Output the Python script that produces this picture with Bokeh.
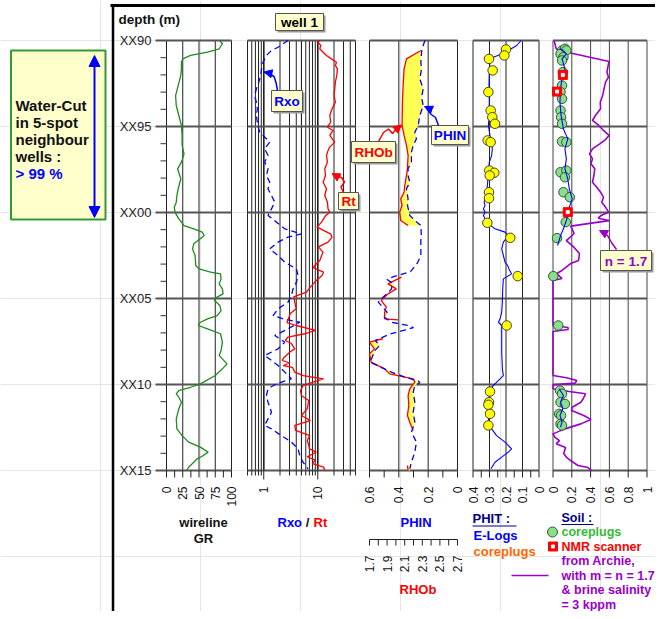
import numpy as np
from bokeh.plotting import figure
from bokeh.models import Range1d, LogScale, Arrow, NormalHead
from bokeh.core.properties import value
from bokeh.embed import file_html
from bokeh.resources import INLINE

# ---------------- data (depth in m: 90 = XX90 ... 115 = XX15) ----------------
DEPTH_MAJOR = [90, 95, 100, 105, 110, 115]
DEPTH_LABELS = ["XX90", "XX95", "XX00", "XX05", "XX10", "XX15"]
DEPTH_MINOR = [d for d in range(90, 116) if d % 5 != 0]

GR_LOG = [(90.00, 82), (90.19, 86), (90.48, 81), (90.68, 63), (90.87, 37), (91.07, 25), (91.26, 23),
          (91.65, 23), (92.03, 22), (92.62, 18), (93.20, 14), (93.78, 15), (94.36, 19), (94.94, 23),
          (95.52, 24), (96.10, 24), (96.59, 27), (97.07, 23), (97.46, 17), (98.04, 22), (98.62, 18),
          (99.01, 16), (99.40, 15), (99.69, 12), (99.98, 13), (100.37, 19), (100.76, 27), (100.95, 42),
          (101.14, 55), (101.34, 58), (101.53, 52), (101.82, 42), (102.11, 40), (102.50, 44), (103.08, 45),
          (103.28, 50), (103.47, 68), (103.57, 83), (103.86, 84), (104.15, 81), (104.44, 86), (104.73, 87),
          (104.98, 75), (105.12, 74), (105.41, 82), (105.70, 84), (105.99, 78), (106.18, 63), (106.41, 51),
          (106.57, 49), (106.76, 63), (107.05, 83), (107.54, 86), (108.02, 84), (108.31, 81), (108.80, 93),
          (109.09, 86), (109.48, 75), (109.86, 57), (110.00, 50), (110.16, 37), (110.35, 19), (110.54, 15),
          (110.74, 19), (111.03, 23), (111.41, 19), (112.00, 15), (112.58, 16), (112.97, 24), (113.35, 34),
          (113.64, 52), (113.93, 64), (114.17, 55), (114.32, 47), (114.52, 42), (114.81, 34), (115.00, 31)]

RT_LOG = [(90.00, 10.9), (90.10, 10.1), (90.29, 11.4), (90.48, 10.9), (90.68, 12.6), (90.87, 14.5),
          (91.07, 17.9), (91.26, 22.2), (91.45, 21.2), (91.65, 23.1), (92.03, 22.5), (92.42, 21.2),
          (92.81, 20.6), (93.20, 20.1), (93.59, 21.2), (93.97, 18.4), (94.36, 16.7), (94.75, 17.4),
          (95.04, 15.1), (95.23, 19.2), (95.52, 16.7), (95.91, 20.6), (96.20, 16.7), (96.40, 15.5),
          (96.69, 14.5), (97.07, 15.1), (97.46, 13.5), (97.85, 13.9), (98.24, 12.6), (98.62, 14.5),
          (99.01, 13.5), (99.40, 15.1), (99.79, 15.5), (99.98, 16.7), (100.17, 14.1), (100.56, 11.7),
          (100.85, 9.7), (101.24, 17.2), (101.43, 18.4), (101.72, 15.5), (102.00, 10.3), (102.30, 12.5),
          (102.79, 10.9), (103.08, 8.8), (103.20, 8.2), (103.47, 12.8), (103.66, 12.0), (103.95, 9.4),
          (104.34, 7.3), (104.63, 6.2), (104.90, 3.6), (105.21, 3.75), (105.60, 4.0), (105.87, 3.1),
          (106.40, 2.7), (106.57, 4.0), (106.86, 9.1), (107.05, 5.7), (107.25, 2.8), (107.44, 2.5),
          (107.60, 3.2), (107.93, 3.75), (108.10, 3.1), (108.41, 2.4), (108.60, 2.2), (108.75, 3.0),
          (108.90, 2.3), (109.00, 3.4), (109.28, 3.75), (109.48, 5.35), (109.67, 12.8), (109.86, 8.2),
          (110.06, 5.35), (110.35, 4.8), (110.64, 5.0), (110.93, 6.8), (111.40, 6.4), (111.80, 5.0),
          (112.10, 7.3), (112.38, 3.75), (112.67, 3.9), (112.97, 7.1), (113.26, 6.4), (113.74, 7.1),
          (113.93, 9.4), (114.20, 6.4), (114.40, 9.0), (114.60, 8.0), (114.80, 12.8), (115.00, 13.5)]

RXO_LOG = [(90.00, 2.82), (90.19, 2.28), (90.39, 1.84), (90.58, 1.39), (90.87, 1.12), (91.26, 0.97),
           (91.65, 0.91), (92.03, 0.88), (92.42, 0.81), (92.81, 0.73), (93.20, 0.68), (93.59, 0.73),
           (93.97, 0.76), (94.36, 0.73), (94.75, 0.76), (95.14, 0.81), (95.33, 0.84), (95.52, 0.97),
           (95.91, 1.29), (96.30, 1.04), (96.69, 1.20), (97.07, 1.04), (97.46, 1.20), (97.85, 1.12),
           (98.24, 1.29), (98.62, 1.20), (99.01, 1.39), (99.40, 1.60), (99.79, 1.39), (100.17, 1.20),
           (100.56, 1.72), (100.95, 2.45), (101.24, 4.98), (101.43, 2.82), (101.72, 1.84), (102.11, 1.29),
           (102.50, 1.84), (102.89, 2.45), (103.28, 4.03), (103.66, 4.32), (104.05, 4.03), (104.44, 3.49),
           (104.83, 3.25), (105.21, 2.82), (105.60, 1.84), (105.99, 1.49), (106.18, 2.28), (106.38, 4.64),
           (106.76, 2.82), (107.15, 1.60), (107.54, 2.45), (107.93, 1.84), (108.31, 1.04), (108.60, 1.39),
           (108.90, 1.84), (109.28, 2.45), (109.67, 3.25), (109.96, 1.72), (110.25, 1.20), (110.64, 1.12),
           (111.03, 1.20), (111.61, 1.39), (112.00, 1.20), (112.38, 1.04), (112.58, 1.39), (112.97, 2.12),
           (113.35, 3.25), (113.74, 4.32), (114.13, 4.64), (114.52, 5.35), (114.90, 6.62)]

PHIN_LOG = [(90.00, 0.222), (90.29, 0.234), (90.68, 0.245), (91.26, 0.250), (91.65, 0.245), (92.23, 0.257),
            (92.81, 0.234), (93.29, 0.245), (93.78, 0.234), (94.36, 0.257), (94.94, 0.268), (95.33, 0.291),
            (95.72, 0.280), (96.10, 0.302), (96.49, 0.314), (97.07, 0.314), (97.46, 0.337), (97.85, 0.337),
            (98.24, 0.325), (98.62, 0.348), (99.21, 0.337), (99.59, 0.341), (100.17, 0.325), (100.47, 0.290),
            (100.75, 0.250), (101.24, 0.247), (101.72, 0.250), (102.11, 0.250), (102.50, 0.250), (102.96, 0.275),
            (103.44, 0.320), (103.73, 0.436), (103.90, 0.480), (104.10, 0.445), (104.44, 0.450), (104.63, 0.470),
            (105.02, 0.520), (105.21, 0.540), (105.60, 0.500), (105.79, 0.480), (106.09, 0.500), (106.38, 0.450),
            (106.57, 0.337), (106.70, 0.300), (106.86, 0.370), (107.05, 0.457), (107.44, 0.560), (107.73, 0.531),
            (108.00, 0.560), (108.31, 0.577), (108.70, 0.595), (109.00, 0.520), (109.28, 0.450), (109.57, 0.360),
            (109.80, 0.265), (109.90, 0.257), (110.06, 0.291), (110.45, 0.302), (111.03, 0.291), (111.61, 0.302),
            (112.19, 0.291), (112.77, 0.314), (113.35, 0.280), (113.93, 0.291), (114.52, 0.314), (114.90, 0.325)]

RHOB_RUNS = [
    [(90.58, 2.284), (91.07, 2.120), (91.65, 2.093), (92.62, 2.082), (93.59, 2.074), (94.94, 2.070),
     (95.52, 2.093), (96.10, 2.120), (96.69, 2.139), (97.46, 2.131), (97.85, 2.120), (98.43, 2.101),
     (98.82, 2.093), (99.21, 2.055), (99.59, 2.070), (99.98, 2.044), (100.47, 2.055), (100.76, 2.139)],
    [(103.76, 2.063), (104.15, 1.910), (104.44, 2.005), (104.73, 1.910), (105.12, 1.834), (105.50, 1.891),
     (105.79, 1.872), (106.18, 1.872), (106.24, 2.024)],
    [(107.34, 1.853), (107.54, 1.700), (107.93, 1.757), (108.22, 1.700), (108.70, 1.719), (109.09, 1.872),
     (109.38, 1.929), (109.67, 2.196), (109.86, 2.215), (110.25, 2.158), (110.64, 2.139), (111.22, 2.147),
     (111.80, 2.131), (112.19, 2.158), (112.67, 2.196)],
    [(114.71, 2.131), (115.00, 2.139)],
]

PHIT_LOG = [(90.00, 0.109), (90.29, 0.135), (90.58, 0.186), (90.78, 0.226), (90.97, 0.277), (91.16, 0.297),
            (91.65, 0.301), (92.62, 0.303), (93.59, 0.301), (94.55, 0.303), (94.94, 0.307), (95.52, 0.297),
            (95.91, 0.287), (96.30, 0.283), (96.69, 0.287), (97.07, 0.301), (97.66, 0.307), (98.24, 0.311),
            (98.82, 0.317), (99.21, 0.327), (99.40, 0.333), (99.59, 0.327), (99.79, 0.337), (99.98, 0.327),
            (100.17, 0.337), (100.56, 0.317), (100.95, 0.267), (101.14, 0.206), (101.34, 0.186), (101.72, 0.216),
            (102.11, 0.226), (102.50, 0.216), (102.89, 0.206), (103.08, 0.190), (103.28, 0.182), (103.57, 0.166),
            (103.86, 0.216), (104.44, 0.220), (105.21, 0.222), (105.79, 0.226), (106.18, 0.236), (106.38, 0.246),
            (106.57, 0.226), (107.15, 0.226), (108.12, 0.226), (109.09, 0.222), (109.48, 0.216), (109.67, 0.236),
            (109.96, 0.267), (110.16, 0.287), (110.45, 0.297), (111.03, 0.307), (111.61, 0.311), (112.19, 0.303),
            (112.58, 0.287), (112.97, 0.257), (113.35, 0.206), (113.74, 0.166), (113.93, 0.186), (114.22, 0.226),
            (114.52, 0.267), (114.90, 0.291)]

PHIT_CORE = [(90.52, 0.200), (90.87, 0.210), (91.07, 0.303), (91.74, 0.281), (93.00, 0.307), (94.07, 0.293),
             (94.46, 0.283), (94.84, 0.267), (95.81, 0.311), (95.91, 0.293), (97.56, 0.301), (97.69, 0.271),
             (97.85, 0.299), (98.82, 0.303), (99.17, 0.303), (100.60, 0.313), (101.47, 0.174), (103.70, 0.129),
             (106.57, 0.196), (110.41, 0.297), (111.03, 0.303), (111.18, 0.307), (111.71, 0.297), (112.38, 0.307)]

SW_ARCHIE = [(90.00, 0.012), (90.48, 0.034), (90.58, 0.068), (91.22, 0.596), (91.55, 0.583), (91.84, 0.574),
             (92.13, 0.590), (92.42, 0.559), (92.81, 0.543), (93.20, 0.528), (93.59, 0.503), (93.97, 0.506),
             (94.36, 0.451), (94.65, 0.420), (94.94, 0.488), (95.23, 0.537), (95.52, 0.596), (95.76, 0.559),
             (96.01, 0.497), (96.30, 0.420), (96.59, 0.389), (96.88, 0.420), (97.17, 0.404), (97.46, 0.444),
             (97.85, 0.435), (98.24, 0.420), (98.53, 0.466), (98.82, 0.506), (99.11, 0.537), (99.40, 0.519),
             (99.69, 0.559), (99.98, 0.590), (100.17, 0.512), (100.33, 0.481), (100.47, 0.596), (100.79, 0.188),
             (101.22, 0.225), (101.63, 0.142), (102.03, 0.225), (102.38, 0.281), (102.79, 0.272), (102.97, 0.188),
             (103.37, 0.096), (103.55, 0.040), (103.84, 0.096), (103.95, 0.0), (106.57, 0.0), (106.69, 0.160),
             (106.80, 0.160), (106.92, 0.0), (109.48, 0.0), (109.61, 0.142), (109.77, 0.253), (109.92, 0.235),
             (110.02, 0.0), (110.25, 0.0), (110.41, 0.173), (110.54, 0.346), (110.83, 0.321), (111.03, 0.296),
             (111.32, 0.204), (111.51, 0.198), (111.80, 0.327), (112.03, 0.404), (112.29, 0.296), (112.58, 0.127),
             (112.87, 0.0), (113.06, 0.019), (113.26, 0.068), (113.45, 0.034), (113.66, 0.133), (114.01, 0.114),
             (114.22, 0.142), (114.42, 0.188), (114.71, 0.265), (114.83, 0.373), (115.00, 0.410)]

SW_CORE = [(90.58, 0.096), (90.48, 0.127), (90.58, 0.142), (90.78, 0.080), (90.97, 0.111), (91.16, 0.096),
           (91.84, 0.105), (92.62, 0.096), (93.00, 0.080), (93.39, 0.096), (94.07, 0.080), (94.46, 0.086),
           (94.84, 0.096), (95.87, 0.096), (95.91, 0.142), (97.66, 0.080), (97.56, 0.142), (97.95, 0.127),
           (98.82, 0.111), (99.11, 0.179), (100.56, 0.136), (101.49, 0.043), (103.70, 0.003), (106.57, 0.056),
           (110.35, 0.074), (110.54, 0.096), (111.03, 0.080), (111.13, 0.127), (111.71, 0.065), (111.80, 0.086),
           (112.29, 0.080), (112.38, 0.096)]

SW_NMR = [(92.00, 0.105), (92.97, 0.043), (99.98, 0.157)]

SW_ELOG_RUNS = [
    [(90.48, 0.074), (90.78, 0.142), (91.07, 0.096), (91.65, 0.127), (92.23, 0.096), (92.81, 0.080),
     (93.59, 0.074), (94.36, 0.086), (95.14, 0.111), (95.72, 0.157), (96.30, 0.127), (96.88, 0.142),
     (97.46, 0.127), (98.04, 0.157), (98.62, 0.173), (99.21, 0.204), (99.79, 0.167), (100.37, 0.148),
     (100.95, 0.111), (101.34, 0.080), (101.92, 0.049)],
    [(110.25, 0.065), (110.64, 0.111), (111.03, 0.080), (111.41, 0.105), (111.80, 0.074), (112.19, 0.096),
     (112.48, 0.080)],
]

# axis ticks of each track
GR_TICKS = [0, 25, 50, 75, 100]
GR_MINOR = [12.5, 37.5, 62.5, 87.5]
RES_LABELS = [1, 10]
RES_GRID = [0.5, 0.6, 0.7, 0.8, 0.9, 1, 2, 3, 4, 5, 6, 7, 8, 9, 10, 20, 30, 40, 50]
PHIN_TICKS = [0.6, 0.4, 0.2, 0.0]
PHIN_MINOR = [0.5, 0.3, 0.1]
RHOB_TICKS = [1.7, 1.9, 2.1, 2.3, 2.5, 2.7]
RHOB_MINOR = [1.8, 2.0, 2.2, 2.4, 2.6]
PHIT_TICKS = [0.4, 0.3, 0.2, 0.1, 0.0]
PHIT_MINOR = [0.35, 0.25, 0.15, 0.05]
SOIL_TICKS = [0, 0.2, 0.4, 0.6, 0.8, 1.0]


def unzip(pairs):
    a = np.array(pairs, dtype=float)
    return a[:, 0], a[:, 1]


def lab(v):
    return "0" if v == 0 else ("1" if v == 1 else ("%g" % v))


# ---------------- layout (canvas pixel = picture pixel) ----------------
W, H = 655, 611
X0, Y0 = 0, 0
DEPTH_TOP, DEPTH_BOT = 90.0, 115.0
PY_TOP, PY_BOT = 40.0, 470.0
PXM = (PY_BOT - PY_TOP) / (DEPTH_BOT - DEPTH_TOP)


def page_to_depth(py):
    return DEPTH_TOP + (py - PY_TOP) / PXM


FONT = value("Liberation Sans")

p = figure(width=W, height=H, output_backend="svg", toolbar_location=None,
           x_range=Range1d(X0, X0 + W),
           y_range=Range1d(page_to_depth(Y0 + H), page_to_depth(Y0)),
           x_axis_location=None, y_axis_location=None, min_border=0,
           outline_line_color=None, background_fill_color="white", border_fill_color="white")

TRACKS = {
    "gr": (0.0, 100.0, 166.0, 231.0, False),
    "res": (0.5, 50.0, 247.0, 355.0, True),
    "phin": (0.6, 0.0, 369.0, 457.0, False),
    "rhob": (1.7, 2.7, 369.0, 457.0, False),
    "phit": (0.4, 0.0, 472.5, 538.5, False),
    "soil": (0.0, 1.0, 552.5, 646.5, False),
}
xr, xs = {}, {}
for name, (a, b, pa, pb, lg) in TRACKS.items():
    if lg:
        la, lb = np.log10(a), np.log10(b)
        s = (lb - la) / (pb - pa)
        xr[name] = Range1d(float(10 ** (la + (X0 - pa) * s)), float(10 ** (la + (X0 + W - pa) * s)))
        xs[name] = LogScale()
    else:
        s = (b - a) / (pb - pa)
        xr[name] = Range1d(float(a + (X0 - pa) * s), float(a + (X0 + W - pa) * s))
p.extra_x_ranges = xr
p.extra_x_scales = xs
p.extra_y_ranges = {"pg": Range1d(Y0 + H, Y0)}

GRID = "#222222"
HGRID = "#555555"


def vgrid(name, vals, width=1.0, color=GRID):
    n = len(vals)
    p.segment(x0=vals, x1=vals, y0=[DEPTH_TOP] * n, y1=[DEPTH_BOT] * n,
              x_range_name=name, line_color=color, line_width=width)


def hgrid(name):
    a, b = TRACKS[name][0], TRACKS[name][1]
    n = len(DEPTH_MAJOR)
    p.segment(x0=[a] * n, x1=[b] * n, y0=DEPTH_MAJOR, y1=DEPTH_MAJOR,
              x_range_name=name, line_color=HGRID, line_width=2)


vgrid("gr", GR_TICKS)
vgrid("res", RES_GRID)
vgrid("res", RES_LABELS, width=1.5)
vgrid("phin", PHIN_TICKS)
vgrid("phit", PHIT_TICKS)
vgrid("soil", SOIL_TICKS, color="#444444")
for nm in ["gr", "res", "phin", "phit", "soil"]:
    hgrid(nm)

# depth axis (left of GR track)
p.segment(x0=[155] * 6, x1=[166] * 6, y0=DEPTH_MAJOR, y1=DEPTH_MAJOR, line_color=HGRID, line_width=2)
p.segment(x0=[160] * len(DEPTH_MINOR), x1=[166] * len(DEPTH_MINOR), y0=DEPTH_MINOR, y1=DEPTH_MINOR,
          line_color="#333333", line_width=1)
p.text(x=[151] * 6, y=DEPTH_MAJOR, text=DEPTH_LABELS, text_font=FONT, text_font_size="13px",
       text_align="right", text_baseline="middle", text_color="#222222")


def bottom_axis(name, major, minor, labels, y_line, major_len=7, minor_len=7, color="#222222", fsize="12px"):
    allt = list(major) + list(minor)
    lens = [major_len] * len(major) + [minor_len] * len(minor)
    p.segment(x0=allt, x1=allt, y0=[y_line] * len(allt), y1=[y_line + L for L in lens],
              x_range_name=name, y_range_name="pg", line_color=color, line_width=1)
    p.text(x=list(major), y=[y_line + 16] * len(major), text=labels, angle=np.pi / 2,
           x_range_name=name, y_range_name="pg", text_font=FONT, text_font_size=fsize,
           text_align="right", text_baseline="middle", text_color="#111111")


bottom_axis("gr", GR_TICKS, GR_MINOR, [lab(v) for v in GR_TICKS], PY_BOT)
res_minor = [v for v in RES_GRID if v not in RES_LABELS]
bottom_axis("res", RES_LABELS, res_minor, ["1", "10"], PY_BOT, major_len=9, minor_len=5)
bottom_axis("phin", PHIN_TICKS, PHIN_MINOR, [lab(v) for v in PHIN_TICKS], PY_BOT)
bottom_axis("phit", PHIT_TICKS, PHIT_MINOR, [lab(v) for v in PHIT_TICKS], PY_BOT)
bottom_axis("soil", SOIL_TICKS, [], [lab(v) for v in SOIL_TICKS], PY_BOT)
# second (RHOb) scale under the PHIN track
RHOB_AXIS_Y = 539
p.segment(x0=[TRACKS["rhob"][0]], x1=[TRACKS["rhob"][1]], y0=[RHOB_AXIS_Y], y1=[RHOB_AXIS_Y],
          x_range_name="rhob", y_range_name="pg", line_color="#222222", line_width=1)
bottom_axis("rhob", RHOB_TICKS, RHOB_MINOR, ["%.1f" % v for v in RHOB_TICKS], RHOB_AXIS_Y, major_len=6, minor_len=6)

# ---------------- curves ----------------
d, v = unzip(GR_LOG)
p.line(v, d, x_range_name="gr", line_color="#1E8C1E", line_width=1.3)

d, v = unzip(RXO_LOG)
p.line(v, d, x_range_name="res", line_color="#0000FF", line_width=1.3, line_dash="6 4")
d, v = unzip(RT_LOG)
p.line(v, d, x_range_name="res", line_color="#FF0000", line_width=1.3)

# PHIN / RHOb with yellow cross-over fill
pd_, pv_ = unzip(PHIN_LOG)
ra, rb = TRACKS["rhob"][0], TRACKS["rhob"][1]
na, nb = TRACKS["phin"][0], TRACKS["phin"][1]
for run in RHOB_RUNS:
    rd, rv = unzip(run)
    dd = np.unique(np.concatenate([rd, pd_[(pd_ > rd.min()) & (pd_ < rd.max())]]))
    rho_i = np.interp(dd, rd, rv)
    rho_as_phin = na + (rho_i - ra) / (rb - ra) * (nb - na)
    phin_i = np.interp(dd, pd_, pv_)
    edge = np.where(rho_as_phin > phin_i, phin_i, rho_as_phin)
    p.harea(x1=rho_as_phin, x2=edge, y=dd, x_range_name="phin", fill_color="#FFFF55", fill_alpha=1.0)
for run in RHOB_RUNS:
    rd, rv = unzip(run)
    p.line(rv, rd, x_range_name="rhob", line_color="#FF0000", line_width=1.3)
p.line(pv_, pd_, x_range_name="phin", line_color="#0000FF", line_width=1.3, line_dash="6 4")

d, v = unzip(PHIT_LOG)
p.line(v, d, x_range_name="phit", line_color="#0000FF", line_width=1.1)
d, v = unzip(PHIT_CORE)
p.scatter(v, d, x_range_name="phit", marker="circle", size=9.5, fill_color="#FFFF00",
          line_color="#444422", line_width=1)

d, v = unzip(SW_ARCHIE)
p.line(v, d, x_range_name="soil", line_color="#9900CC", line_width=1.6)
d, v = unzip(SW_CORE)
p.scatter(v, d, x_range_name="soil", marker="circle", size=9.5, fill_color="#88E088",
          line_color="#335533", line_width=1)
for run in SW_ELOG_RUNS:
    d, v = unzip(run)
    p.line(v, d, x_range_name="soil", line_color="#0000FF", line_width=1.1)
d, v = unzip(SW_NMR)
p.scatter(v, d, x_range_name="soil", marker="square", size=9, fill_color="#FF0000", line_color="#FF0000")
p.scatter(v, d, x_range_name="soil", marker="square", size=3, fill_color="white", line_color="white")

# ---------------- frame lines ----------------
p.segment(x0=[110], x1=[655], y0=[5], y1=[5], y_range_name="pg", line_color="black", line_width=3)
p.segment(x0=[112.5], x1=[112.5], y0=[4], y1=[611], y_range_name="pg", line_color="black", line_width=2.5)


# ---------------- callout boxes with arrows ----------------
def callout(l, r, t, b, text, color, path=None):
    p.quad(left=[l + 2], right=[r + 2], top=[t + 2], bottom=[b + 2], y_range_name="pg",
           fill_color="#9A9A9A", line_color=None)
    p.quad(left=[l], right=[r], top=[t], bottom=[b], y_range_name="pg",
           fill_color="#FFFFCC", line_color="#555555", line_width=1)
    p.text(x=[(l + r) / 2], y=[(t + b) / 2 + 0.5], text=[text], y_range_name="pg", text_font=FONT,
           text_font_size="13.5px", text_font_style="bold", text_color=color,
           text_align="center", text_baseline="middle")
    if path:
        xs_, ys_ = zip(*path)
        p.line(list(xs_[:-1]), list(ys_[:-1]), y_range_name="pg", line_color=color, line_width=1.5)
        p.add_layout(Arrow(x_start=xs_[-2], y_start=ys_[-2], x_end=xs_[-1], y_end=ys_[-1],
                           y_range_name="pg", line_color=color, line_width=1.5,
                           end=NormalHead(size=8, fill_color=color, line_color=color)))


callout(275, 323, 13, 30, "well 1", "black")
callout(271, 302, 90, 111, "Rxo", "#0000FF",
        [(277, 90), (275.5, 82), (273.5, 76), (268, 72.5), (263.5, 71.5)])
callout(338, 358, 192, 209, "Rt", "#FF0000",
        [(343, 192), (340.5, 186.5), (344, 181.5), (341, 177), (336, 175.5), (331.5, 173)])
callout(351, 395, 141, 162, "RHOb", "#FF0000",
        [(378, 141), (383, 132), (388, 128.5), (392, 133), (396, 128.5), (401, 124.5)])
callout(431, 468, 125, 144, "PHIN", "#0000FF",
        [(438, 125), (435, 117), (430, 113.5), (430.5, 109), (424, 106)])
callout(600, 651, 250, 270, "n = 1.7", "#9900CC",
        [(616, 249), (611, 242), (607, 235), (603, 232), (599, 230)])

# ---------------- water-cut box ----------------
p.quad(left=[10.5], right=[105], top=[50], bottom=[219], y_range_name="pg",
       fill_color="#FFFFCC", line_color="#339933", line_width=2)
WC_LINES = ["Water-Cut", "in 5-spot", "neighbour", "wells :"]
p.text(x=[15] * 4, y=[105, 122, 139, 156], text=WC_LINES, y_range_name="pg", text_font=FONT,
       text_font_size="15px", text_font_style="bold", text_color="#111111", text_baseline="middle")
p.text(x=[15], y=[173], text=["> 99 %"], y_range_name="pg", text_font=FONT,
       text_font_size="15px", text_font_style="bold", text_color="#0000FF", text_baseline="middle")
p.add_layout(Arrow(x_start=94, y_start=217, x_end=94, y_end=55, y_range_name="pg",
                   line_color="#0000FF", line_width=2,
                   start=NormalHead(size=11, fill_color="#0000FF", line_color="#0000FF"),
                   end=NormalHead(size=11, fill_color="#0000FF", line_color="#0000FF")))


# ---------------- titles & legends ----------------
def txt(x, y, s, color="#111111", size="13px", align="left"):
    p.text(x=[x], y=[y], text=[s], y_range_name="pg", text_font=FONT, text_font_size=size,
           text_font_style="bold", text_color=color, text_align=align, text_baseline="middle")


txt(118, 18.5, "depth (m)", size="13.5px")
txt(203, 522, "wireline", align="center")
txt(203, 538, "GR", align="center")
txt(277, 522, "Rxo", color="#0000FF")
txt(307, 522, "/", align="center")
txt(313, 522, "Rt", color="#FF0000")
txt(400, 522, "PHIN", color="#0000FF")
txt(399, 589, "RHOb", color="#FF0000")

txt(472, 518, "PHIT :", color="#000080")
p.segment(x0=[472], x1=[516], y0=[525.5], y1=[525.5], y_range_name="pg", line_color="#000080", line_width=1.2)
txt(473, 535, "E-Logs", color="#0000FF")
txt(473, 551, "coreplugs", color="#FF6600")

LEG = "12.5px"
txt(561, 517, "Soil :", color="#000080", size=LEG)
p.segment(x0=[561], x1=[593], y0=[524], y1=[524], y_range_name="pg", line_color="#000080", line_width=1.2)
p.scatter(x=[552], y=[531.5], y_range_name="pg", marker="circle", size=10, fill_color="#88E088",
          line_color="#335533")
txt(561, 531.5, "coreplugs", color="#33BB33", size=LEG)
p.scatter(x=[552.5], y=[546], y_range_name="pg", marker="square", size=9, fill_color="#FF0000",
          line_color="#FF0000")
p.scatter(x=[552.5], y=[546], y_range_name="pg", marker="square", size=3, fill_color="white",
          line_color="white")
txt(561, 546, "NMR scanner", color="#FF0000", size=LEG)
for yy, s in zip([560.5, 575, 589.5, 604], ["from Archie,", "with m = n = 1.7", "& brine salinity", "= 3 kppm"]):
    txt(561, yy, s, color="#9900CC", size=LEG)
p.segment(x0=[511], x1=[548], y0=[575], y1=[575], y_range_name="pg", line_color="#9900CC", line_width=1.6)

open("out.html", "w").write(file_html(p, INLINE))
